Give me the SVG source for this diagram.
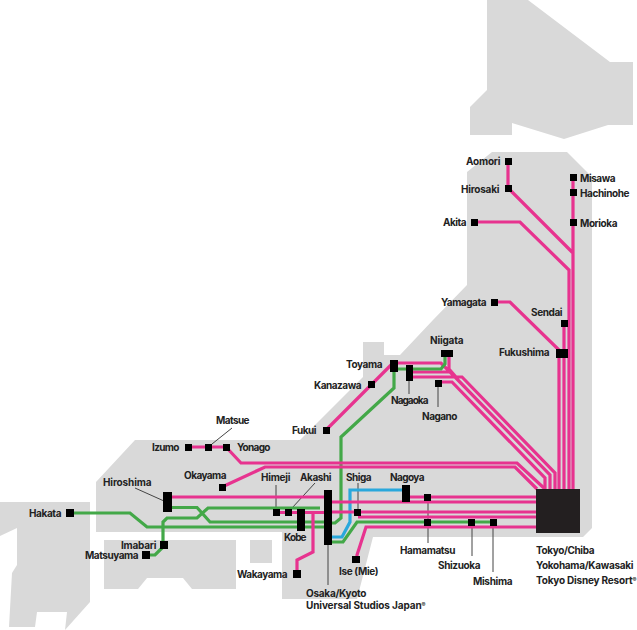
<svg xmlns="http://www.w3.org/2000/svg" width="637" height="630" viewBox="0 0 637 630">
<style>
.land{fill:#d9d9d9}
.p,.g,.b{fill:none;stroke-linejoin:miter}
.p{stroke:#e7338f;stroke-width:3.2}
.g{stroke:#43a848;stroke-width:3.2}
.b{stroke:#2aa8dc;stroke-width:3.2}
.l{fill:none;stroke:#444;stroke-width:1}
.n{fill:#000}
text{font-family:"Inter","Liberation Sans",sans-serif;font-weight:700;font-size:10px;fill:#222;letter-spacing:.5px}
.r{font-size:6px}
</style>
<rect width="637" height="630" fill="#fff"/>
<g id="land">
<polygon class="land" points="487,0 528,0 610,62 633,62 633,125 608,125 564,139 512,123 512,135 470,135 470,107 487,90"/>
<polygon class="land" points="492,152 567,152 592,177 592,528 583,537 373,537 357,599 282,599 282,532 96,532 96,482 135,440 300,440 363,377 363,342 384,342 384,355 400,355 433,320 467,285 467,172"/>
<polygon class="land" points="0,502 90,502 90,602 65,630 67,612 37,612 35,627 9,627 12,573 17,565 17,528 0,536"/>
<polygon class="land" points="104,540 236,540 236,589 192,589 183,578 147,578 138,589 104,589"/>
<polygon class="land" points="250,540 272,540 272,563 250,563"/>
</g>
<g id="connectors">
<g>
<path class="l" d="M358,483V510M428,498V543M472,522V556M493,522V572M409,381V394M438,386V407M276,485V508M315,483L292,508M135,488L164,501M232,428L212,444M328,545V585"/>
</g>
<path class="g" d="M73,513H130L147,527H324M172,507.500H197L210,522H324M320,508H208L197,518H167L163,522V544M150,555H155L163,547V540"/>
<path class="p" d="M172,497H324M277,512.500H324M313,513V552L297,560V573"/>
<path class="g" d="M394,372V388L341,437V518L335,523H331"/>
<path class="b" d="M402,490H350V522L342,537H332"/>
<path class="g" d="M332,542H343L357,522H493"/>
<path class="p" d="M332,502H536M410,497H536M332,512H536M358,517H536M536,527H366L357,555V559M188,447H226L241,463H517L545,489M222,487L265,467H515L537,489"/>
<path class="p" d="M573,177V489M508,161V188L573,253M475,222H520L569,270V489M494,302H510L559,350V489M564,323V489"/>
<path class="p" d="M326,430L371,385L392,364M398,363H441L452,374M413,372H450L455,377L550,475V489M413,377H462L555,473V489M449,356V369L456,377M438,382H452L545,478V489"/>
<path class="g" d="M398,369H441L445,364V356"/>
</g>
<g id="n-tokyo"><rect x="536" y="489" width="44" height="44" fill="#231f20"/><text x="536" y="554" textLength="59">Tokyo/Chiba</text><text x="536" y="569" textLength="98">Yokohama/Kawasaki</text><text x="536" y="584" textLength="101">Tokyo Disney Resort<tspan class="r" dy="-2">®</tspan></text></g>
<g id="n-aomori"><rect class="n" x="505" y="158" width="7" height="7"/><text x="466" y="165" textLength="35">Aomori</text></g>
<g id="n-hirosaki"><rect class="n" x="505" y="185" width="7" height="7"/><text x="461" y="193" textLength="39">Hirosaki</text></g>
<g id="n-akita"><rect class="n" x="471" y="219" width="7" height="7"/><text x="443" y="226" textLength="24">Akita</text></g>
<g id="n-misawa"><rect class="n" x="570" y="174" width="7" height="7"/><text x="580" y="182" textLength="36">Misawa</text></g>
<g id="n-hachinohe"><rect class="n" x="570" y="189" width="7" height="7"/><text x="580" y="197" textLength="50">Hachinohe</text></g>
<g id="n-morioka"><rect class="n" x="570" y="219" width="7" height="7"/><text x="580" y="227" textLength="38">Morioka</text></g>
<g id="n-yamagata"><rect class="n" x="491" y="299" width="7" height="7"/><text x="441" y="306" textLength="46">Yamagata</text></g>
<g id="n-sendai"><rect class="n" x="561" y="320" width="7" height="7"/><text x="531" y="316" textLength="32">Sendai</text></g>
<g id="n-fukushima"><rect class="n" x="556" y="349" width="12" height="9"/><text x="499" y="356" textLength="51">Fukushima</text></g>
<g id="n-niigata"><rect class="n" x="441" y="350" width="12" height="7"/><text x="430" y="344" textLength="34">Niigata</text></g>
<g id="n-toyama"><rect class="n" x="390" y="360" width="8" height="12"/><text x="346" y="368" textLength="37">Toyama</text></g>
<g id="n-kanazawa"><rect class="n" x="368" y="381" width="7" height="7"/><text x="314" y="389" textLength="48">Kanazawa</text></g>
<g id="n-nagaoka"><rect class="n" x="406" y="365" width="7" height="16"/><text x="391" y="404" textLength="38">Nagaoka</text></g>
<g id="n-nagano"><rect class="n" x="435" y="380" width="7" height="7"/><text x="422" y="420" textLength="36">Nagano</text></g>
<g id="n-fukui"><rect class="n" x="323" y="427" width="7" height="7"/><text x="292" y="434" textLength="25">Fukui</text></g>
<g id="n-matsue"><rect class="n" x="205" y="444" width="7" height="7"/><text x="216" y="424" textLength="34">Matsue</text></g>
<g id="n-izumo"><rect class="n" x="185" y="444" width="7" height="7"/><text x="152" y="451" textLength="28">Izumo</text></g>
<g id="n-yonago"><rect class="n" x="223" y="444" width="7" height="7"/><text x="237" y="451" textLength="34">Yonago</text></g>
<g id="n-okayama"><rect class="n" x="219" y="484" width="7" height="7"/><text x="184" y="479" textLength="43">Okayama</text></g>
<g id="n-hiroshima"><rect class="n" x="163" y="492" width="9" height="20"/><text x="103" y="486" textLength="49">Hiroshima</text></g>
<g id="n-himeji"><rect class="n" x="273" y="509" width="7" height="7"/><text x="261" y="481" textLength="30">Himeji</text></g>
<g id="n-akashi"><rect class="n" x="285" y="509" width="7" height="7"/><text x="300" y="481" textLength="32">Akashi</text></g>
<g id="n-kobe"><rect class="n" x="297" y="509" width="8" height="22"/><text x="284" y="541" textLength="23">Kobe</text></g>
<g id="n-shiga"><rect class="n" x="354" y="509" width="7" height="7"/><text x="346" y="481" textLength="26">Shiga</text></g>
<g id="n-nagoya"><rect class="n" x="402" y="485" width="8" height="17"/><text x="390" y="481" textLength="35">Nagoya</text></g>
<g id="n-osaka"><rect class="n" x="324" y="490" width="8" height="55"/><text x="306" y="597" textLength="61">Osaka/Kyoto</text><text x="306" y="609" textLength="120">Universal Studios Japan<tspan class="r" dy="-2">®</tspan></text></g>
<g id="n-hakata"><rect class="n" x="66" y="509" width="8" height="8"/><text x="29" y="517" textLength="33">Hakata</text></g>
<g id="n-imabari"><rect class="n" x="160" y="541" width="8" height="8"/><text x="121" y="549" textLength="36">Imabari</text></g>
<g id="n-matsuyama"><rect class="n" x="142" y="551" width="8" height="8"/><text x="85" y="559" textLength="54">Matsuyama</text></g>
<g id="n-wakayama"><rect class="n" x="293" y="570" width="8" height="8"/><text x="237" y="578" textLength="51">Wakayama</text></g>
<g id="n-hamamatsu"><rect class="n" x="424" y="494" width="7" height="7"/><rect class="n" x="424" y="519" width="7" height="7"/><text x="400" y="554" textLength="56">Hamamatsu</text></g>
<g id="n-shizuoka"><rect class="n" x="468" y="519" width="7" height="7"/><text x="438" y="569" textLength="43">Shizuoka</text></g>
<g id="n-mishima"><rect class="n" x="490" y="519" width="7" height="7"/><text x="473" y="585" textLength="40">Mishima</text></g>
<g id="n-ise"><rect class="n" x="352" y="556" width="8" height="7"/><text x="339" y="575" textLength="40">Ise (Mie)</text></g>
</svg>
